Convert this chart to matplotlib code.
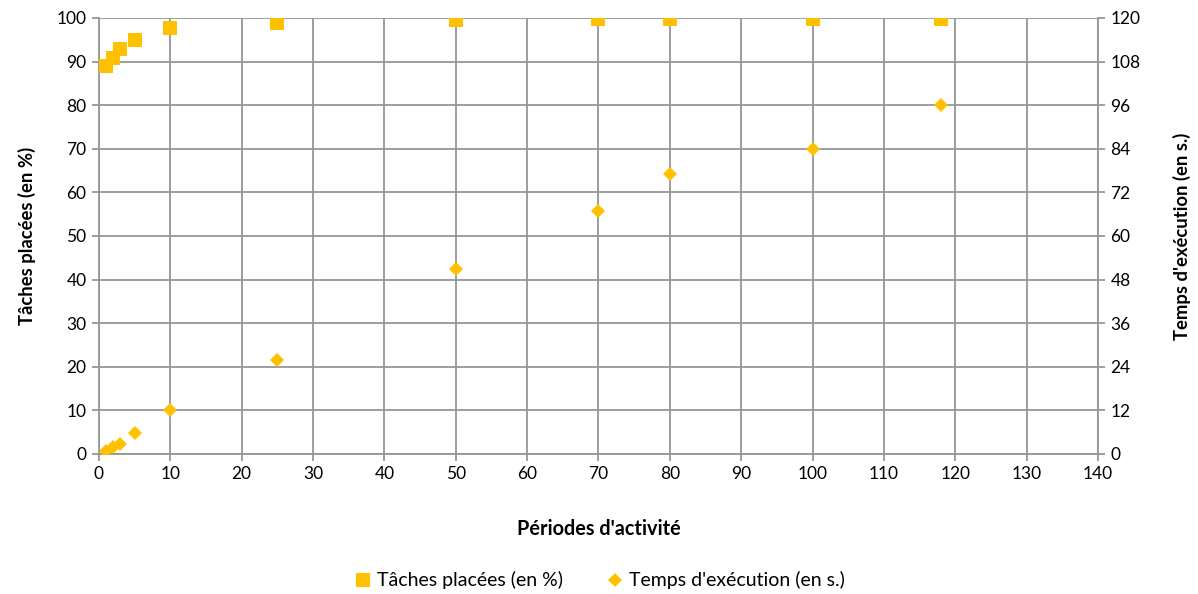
import matplotlib
matplotlib.use("Agg")
import matplotlib.pyplot as plt
from matplotlib.lines import Line2D

plt.rcParams['font.family'] = ['Lato', 'DejaVu Sans']

# Activity periods (x) and the two measured series
periodes = [1, 2, 3, 5, 10, 25, 50, 70, 80, 100, 118]
taches_placees = [89.0, 90.8, 92.9, 94.9, 97.8, 98.9, 99.6, 99.7, 99.7, 99.7, 99.8]
temps_execution = [0.8, 1.8, 2.8, 5.8, 12.0, 26.0, 51.0, 67.0, 77.0, 84.0, 96.0]

x_ticks = list(range(0, 141, 10))
left_ticks = list(range(0, 101, 10))
right_ticks = list(range(0, 121, 12))

gold = '#FFC000'
grid_col = '#969696'
txt_col = '#000000'

fig = plt.figure(figsize=(11.98, 5.94), dpi=100)
ax = fig.add_axes([0.0826, 0.2357, 0.9165 - 0.0826, 0.9697 - 0.2357])
ax2 = ax.twinx()

ax.plot(periodes, taches_placees, linestyle='none', marker='s',
        markersize=10, color=gold, markeredgewidth=0, zorder=3)
ax2.plot(periodes, temps_execution, linestyle='none', marker='D',
         markersize=7, color=gold, markeredgewidth=0, zorder=3)

ax.set_xlim(0, 140)
ax.set_ylim(0, 100)
ax2.set_ylim(0, 120)
ax.set_xticks(x_ticks)
ax.set_yticks(left_ticks)
ax2.set_yticks(right_ticks)

ax.grid(True, color=grid_col, linewidth=1.3)
ax.set_axisbelow(True)

for a in (ax, ax2):
    for s in a.spines.values():
        s.set_visible(False)
    a.tick_params(colors=grid_col, labelcolor=txt_col, labelsize=12.5,
                  length=5, width=1.3)
ax.spines['left'].set_visible(True)
ax.spines['bottom'].set_visible(True)
ax2.spines['right'].set_visible(True)
for s in (ax.spines['left'], ax.spines['bottom'], ax2.spines['right']):
    s.set_color(grid_col)
    s.set_linewidth(1.3)
ax.tick_params(axis='x', pad=4)
ax.tick_params(axis='y', pad=4)
ax2.tick_params(axis='y', pad=4)

ax.set_xlabel("Périodes d'activité", fontsize=14.3, fontweight='bold', labelpad=26)
ax.set_ylabel("Tâches placées (en %)", fontsize=13.3, fontweight='bold', labelpad=15)
ax2.set_ylabel("Temps d'exécution (en s.)", fontsize=13.3, fontweight='bold',
               labelpad=23)

handles = [
    Line2D([], [], linestyle='none', marker='s', markersize=10, color=gold,
           markeredgewidth=0),
    Line2D([], [], linestyle='none', marker='D', markersize=7, color=gold,
           markeredgewidth=0),
]
fig.legend(handles, ["Tâches placées (en %)", "Temps d'exécution (en s.)"],
           loc='center', bbox_to_anchor=(0.5, 0.023), ncol=2, frameon=False,
           fontsize=14, handletextpad=0.2, columnspacing=2.2,
           handlelength=1.0)

fig.savefig('out.png', dpi=100)
